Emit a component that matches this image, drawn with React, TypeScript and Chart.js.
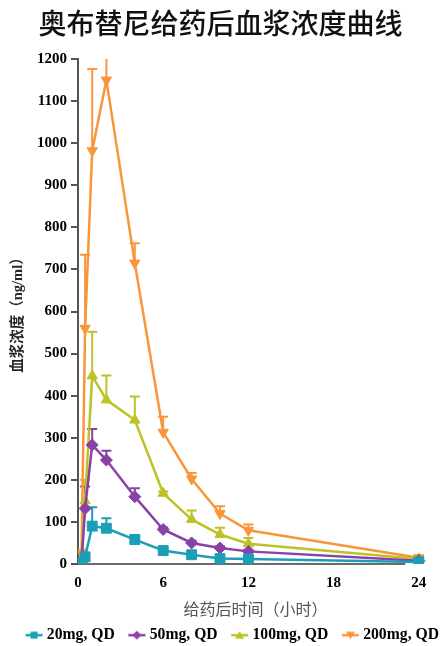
import React, { useEffect, useRef } from 'react';
import { Chart, registerables } from 'chart.js';

Chart.register(...registerables);

const TITLE = '奥布替尼给药后血浆浓度曲线';
const X_TITLE = '给药后时间（小时）';
const Y_TITLE = '血浆浓度（ng/ml）';

const TIMES = [0.25, 0.5, 1, 2, 4, 6, 8, 10, 12, 24];
const X_TICKS = [0, 6, 12, 18, 24];
const X_MAX = 25.0;
const X_LINE_END = 23.05;
const Y_MAX = 1200;
const Y_STEP = 100;

const LABELS = ['20mg, QD', '50mg, QD', '100mg, QD', '200mg, QD'];
const COLORS = ['#1b9fb6', '#8a41a7', '#bcc227', '#f8973a'];
const MARKERS = ['rect', 'rectRot', 'triangle', 'triangle'];
const ROTATIONS = [0, 0, 0, 180];
const RADII = [7, 6, 6, 6];

const MEAN_20 = [3, 17, 90, 85, 58, 32, 22, 13, 12, 5];
const SD_20 = [0, 0, 45, 24, 11, 3, 3, 2, 2, 1];
const MEAN_50 = [5, 132, 283, 247, 160, 82, 50, 38, 30, 8];
const SD_50 = [0, 52, 38, 22, 20, 5, 5, 4, 4, 2];
const MEAN_100 = [10, 150, 447, 390, 342, 168, 106, 70, 48, 12];
const SD_100 = [0, 50, 105, 58, 56, 4, 21, 16, 14, 2];
const MEAN_200 = [28, 560, 982, 1150, 715, 313, 202, 120, 80, 15];
const SD_200 = [0, 175, 194, 80, 47, 37, 14, 17, 14, 3];

const MEANS = [MEAN_20, MEAN_50, MEAN_100, MEAN_200];
const SDS = [SD_20, SD_50, SD_100, SD_200];

// legend icon: transparent left half, visible line+marker in the right half
function makeIcon(color: string, marker: string, rotation: number) {
  const c = document.createElement('canvas');
  c.width = 34;
  c.height = 12;
  const ctx = c.getContext('2d')!;
  ctx.strokeStyle = color;
  ctx.fillStyle = color;
  ctx.lineWidth = 2.5;
  ctx.beginPath();
  ctx.moveTo(16, 6);
  ctx.lineTo(33, 6);
  ctx.stroke();
  ctx.save();
  ctx.translate(24.5, 6);
  if (marker === 'rect') {
    ctx.fillRect(-3.5, -3.5, 7, 7);
  } else if (marker === 'rectRot') {
    ctx.beginPath();
    ctx.moveTo(0, -4.5);
    ctx.lineTo(4.5, 0);
    ctx.lineTo(0, 4.5);
    ctx.lineTo(-4.5, 0);
    ctx.closePath();
    ctx.fill();
  } else {
    ctx.rotate((rotation * Math.PI) / 180);
    ctx.beginPath();
    ctx.moveTo(0, -4);
    ctx.lineTo(4.5, 3.5);
    ctx.lineTo(-4.5, 3.5);
    ctx.closePath();
    ctx.fill();
  }
  ctx.restore();
  return c;
}

const axisLinePlugin = {
  id: 'xAxisLine',
  beforeDatasetsDraw(chart: any) {
    const { ctx, chartArea } = chart;
    const xs = chart.scales.x;
    ctx.save();
    ctx.strokeStyle = '#6b6b6b';
    ctx.lineWidth = 2;
    ctx.beginPath();
    ctx.moveTo(chartArea.left, chartArea.bottom);
    ctx.lineTo(xs.getPixelForValue(X_LINE_END), chartArea.bottom);
    ctx.stroke();
    ctx.restore();
  },
};

const errorBarPlugin = {
  id: 'errorBars',
  beforeDatasetsDraw(chart: any) {
    const { ctx, chartArea } = chart;
    const xs = chart.scales.x;
    const ys = chart.scales.y;
    ctx.save();
    ctx.beginPath();
    ctx.rect(chartArea.left - 10, chartArea.top, chartArea.right - chartArea.left + 20, chartArea.bottom - chartArea.top + 10);
    ctx.clip();
    for (let i = MEANS.length - 1; i >= 0; i--) {
      const means = MEANS[i];
      const sds = SDS[i];
      ctx.strokeStyle = COLORS[i];
      ctx.lineWidth = 2;
      for (let j = 0; j < TIMES.length; j++) {
        if (!sds[j]) continue;
        const x = xs.getPixelForValue(TIMES[j]);
        const y0 = ys.getPixelForValue(means[j]);
        const y1 = ys.getPixelForValue(means[j] + sds[j]);
        ctx.beginPath();
        ctx.moveTo(x, y0);
        ctx.lineTo(x, y1);
        ctx.moveTo(x - 5, y1);
        ctx.lineTo(x + 5, y1);
        ctx.stroke();
      }
    }
    ctx.restore();
  },
};

export default function App() {
  const ref = useRef<HTMLCanvasElement | null>(null);

  useEffect(() => {
    document.body.style.margin = '0';
    const canvas = ref.current;
    if (!canvas) return;
    const icons = COLORS.map((c, i) => makeIcon(c, MARKERS[i], ROTATIONS[i]));
    const datasets = LABELS.map((label, i) => ({
      label,
      data: TIMES.map((t, j) => ({ x: t, y: MEANS[i][j] })),
      borderColor: COLORS[i],
      backgroundColor: COLORS[i],
      borderWidth: 2.5,
      pointStyle: MARKERS[i] as any,
      pointRotation: ROTATIONS[i],
      pointRadius: RADII[i],
      pointBorderWidth: 1,
      pointBackgroundColor: COLORS[i],
      pointBorderColor: COLORS[i],
      tension: 0,
    }));

    const chart = new Chart(canvas, {
      type: 'line',
      data: { datasets },
      plugins: [axisLinePlugin, errorBarPlugin],
      options: {
        animation: false,
        responsive: false,
        maintainAspectRatio: false,
        layout: { padding: { top: 0, left: 0, right: 0, bottom: -7 } },
        plugins: {
          title: {
            display: true,
            text: TITLE,
            color: '#111',
            font: { family: '"Noto Sans CJK SC"', size: 28, weight: 500 as any },
            padding: { top: 7, bottom: 18.4 },
          },
          legend: {
            position: 'bottom',
            align: 'end',
            labels: {
              usePointStyle: true,
              pointStyleWidth: 25,
              boxHeight: 15,
              padding: 2,
              color: '#000',
              font: { family: '"Liberation Serif"', size: 15.7, weight: 'bold' },
              generateLabels: () =>
                LABELS.map((text, i) => ({
                  text,
                  pointStyle: icons[i] as any,
                  fillStyle: COLORS[i],
                  strokeStyle: COLORS[i],
                  lineWidth: 0,
                  hidden: false,
                  datasetIndex: i,
                  fontColor: '#000',
                })),
            },
          },
          tooltip: { enabled: false },
        },
        scales: {
          x: {
            type: 'linear',
            min: 0,
            max: X_MAX,
            afterBuildTicks: (s: any) => {
              s.ticks = X_TICKS.map((v) => ({ value: v }));
            },
            afterFit: (s: any) => {
              s.height = 61.3;
            },
            grid: { display: false, drawTicks: false },
            border: { display: false },
            ticks: {
              padding: 10,
              color: '#000',
              font: { family: '"Liberation Serif"', size: 15, weight: 'bold' },
              maxRotation: 0,
            },
            title: {
              display: true,
              text: X_TITLE,
              color: '#555',
              font: { family: '"Noto Sans CJK SC"', size: 16 },
              padding: { top: 0, bottom: 6.3 },
            },
          },
          y: {
            type: 'linear',
            min: 0,
            max: Y_MAX,
            afterFit: (s: any) => {
              s.width = 78;
            },
            ticks: {
              stepSize: Y_STEP,
              padding: 4,
              color: '#000',
              font: { family: '"Liberation Serif"', size: 15, weight: 'bold' },
              callback: (v: any) => String(v),
            },
            grid: {
              display: true,
              drawOnChartArea: false,
              drawTicks: true,
              tickLength: 7,
              color: '#555',
              lineWidth: 2,
            },
            border: { display: true, color: '#555', width: 2 },
            title: {
              display: true,
              text: Y_TITLE,
              color: '#2b2424',
              font: { family: '"Liberation Serif", "Noto Sans CJK SC"', size: 14.5, weight: 'bold' },
              padding: { top: 10, bottom: 0 },
            },
          },
        },
      },
    });
    return () => chart.destroy();
  }, []);

  return (
    <div style={{ position: 'absolute', left: 0, top: 0, width: 441, height: 646 }}>
      <canvas ref={ref} width={441} height={646} style={{ width: 441, height: 646 }} />
    </div>
  );
}
